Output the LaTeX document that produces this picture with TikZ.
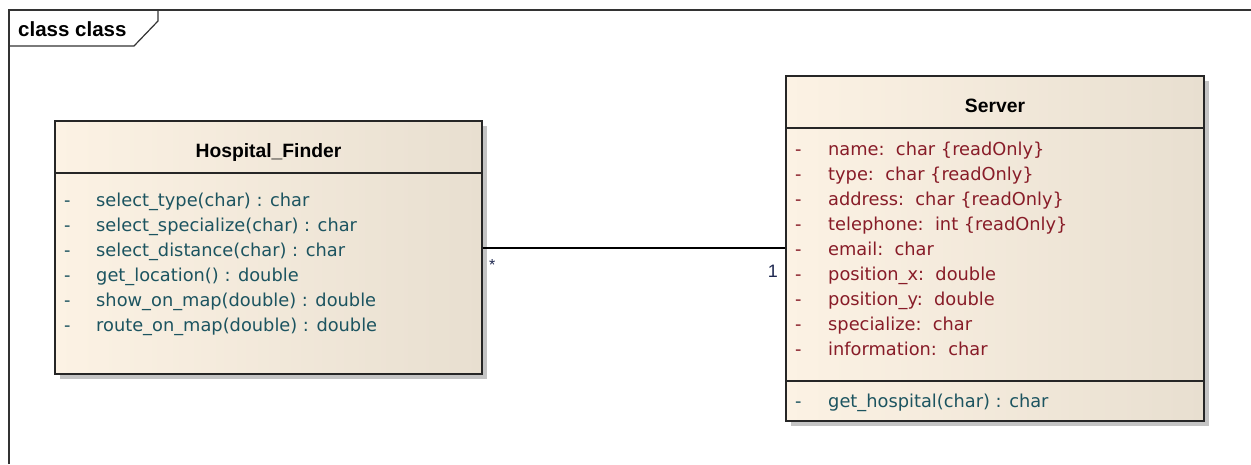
\documentclass[tikz,border=0pt]{standalone}
\usepackage{fontspec}
\setmainfont{Liberation Sans}
\newfontfamily\memberfont{DejaVu Sans}
\definecolor{opcol}{RGB}{28,84,96}
\definecolor{attcol}{RGB}{136,28,40}
\definecolor{boxleft}{RGB}{252,242,228}
\definecolor{boxright}{RGB}{232,223,208}
\definecolor{shadowgray}{RGB}{196,196,196}
\definecolor{labcol}{RGB}{30,40,80}
\tikzset{
  umltext/.style={inner sep=0pt, anchor=base west, font=\memberfont\fontsize{17.8}{22}\selectfont},
  optext/.style={umltext, text=opcol},
  atttext/.style={umltext, text=attcol},
  titletext/.style={inner sep=0pt, anchor=base, font=\fontsize{19.3}{22}\selectfont\bfseries},
  classbox/.style={draw=black!85, line width=1.3pt, rectangle, inner sep=0pt,
    left color=boxleft, right color=boxright},
  shadowbox/.style={fill=shadowgray, draw=none},
  sepline/.style={draw=black!85, line width=1.3pt},
  frameline/.style={draw=black!80, line width=1.2pt},
  assoc/.style={draw=black, line width=1.1pt},
  multlabel/.style={inner sep=0pt, text=labcol, font=\fontsize{16}{18}\selectfont}
}
\begin{document}
\begin{tikzpicture}[x=1pt, y=-1pt]
\useasboundingbox (0,0) rectangle (1251,464);
\fill[white] (0,0) rectangle (1251,464);

% diagram frame with its name tab
\draw[frameline] (9,464) -- (9,10) -- (1251,10);
\draw[frameline] (9,46) -- (134,46) -- (158,21) -- (158,10);
\node[inner sep=0pt, anchor=base west, font=\fontsize{20.5}{22}\selectfont\bfseries] (frametitle) at (18,36) {class class};

% class Hospital_Finder
\fill[shadowbox] (60,126) rectangle (487,379);
\node[classbox, minimum width=427pt, minimum height=253pt] (hf) at (268.5,247.5) {};
\draw[sepline] (55,173) -- (482,173);
\node[titletext] (hftitle) at (268.5,157) {Hospital\_Finder};
\foreach \txt [count=\i] in {select\_type(char) : char,
                              select\_specialize(char) : char,
                              select\_distance(char) : char,
                              get\_location() : double,
                              show\_on\_map(double) : double,
                              route\_on\_map(double) : double} {
  \node[optext] (hfdash\i) at (64,181+25*\i) {-};
  \node[optext] (hfop\i) at (96,181+25*\i) {\txt};
}

% class Server
\fill[shadowbox] (791,81) rectangle (1209,426);
\node[classbox, minimum width=418pt, minimum height=345pt] (srv) at (995,248.5) {};
\draw[sepline] (786,128) -- (1204,128);
\draw[sepline] (786,381) -- (1204,381);
\node[titletext] (srvtitle) at (995,112) {Server};
\foreach \txt [count=\i] in {name:\ \ char \{readOnly\},
                              type:\ \ char \{readOnly\},
                              address:\ \ char \{readOnly\},
                              telephone:\ \ int \{readOnly\},
                              email:\ \ char,
                              position\_x:\ \ double,
                              position\_y:\ \ double,
                              specialize:\ \ char,
                              information:\ \ char} {
  \node[atttext] (srvdash\i) at (795,130+25*\i) {-};
  \node[atttext] (srvatt\i) at (828,130+25*\i) {\txt};
}
\node[optext] (srvopdash) at (795,407) {-};
\node[optext] (srvop) at (828,407) {get\_hospital(char) : char};

% association between the two classes
\coordinate (assocA) at (hf.east |- 0,248);
\coordinate (assocB) at (srv.west |- 0,248);
\draw[assoc] (assocA) -- (assocB);
\node[multlabel, anchor=north west] (multA) at (489,259) {*};
\node[multlabel, anchor=base east, font=\fontsize{18}{20}\selectfont] (multB) at (778,277) {1};
\end{tikzpicture}
\end{document}
